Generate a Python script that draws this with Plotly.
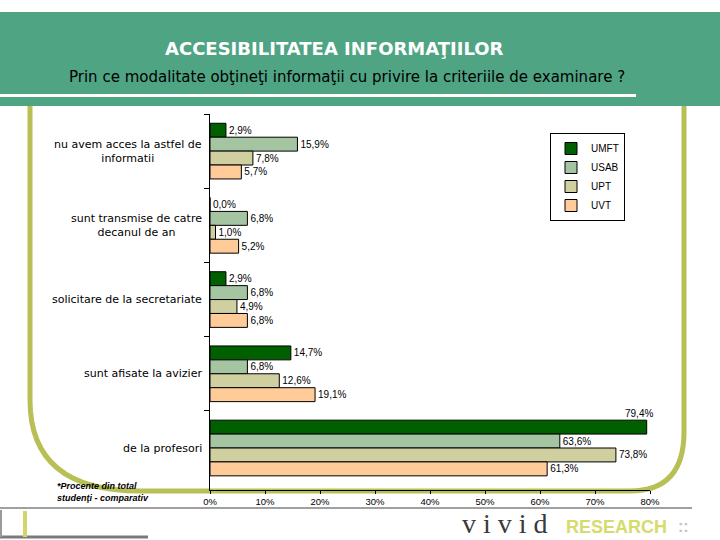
import plotly.graph_objects as go

W, H = 720, 540

categories = [
    "nu avem acces la astfel de<br>informatii",
    "sunt transmise de catre<br>decanul de an",
    "solicitare de la secretariate",
    "sunt afisate la avizier",
    "de la profesori",
]
series_names = ["UMFT", "USAB", "UPT", "UVT"]
umft = [2.9, 0.0, 2.9, 14.7, 79.4]
usab = [15.9, 6.8, 6.8, 6.8, 63.6]
upt = [7.8, 1.0, 4.9, 12.6, 73.8]
uvt = [5.7, 5.2, 6.8, 19.1, 61.3]
series_values = [umft, usab, upt, uvt]
colors = ["#006000", "#a4c4a2", "#cfcf9f", "#ffcb98"]
x_ticks = [0, 10, 20, 30, 40, 50, 60, 70, 80]

FONT = "Arial, Liberation Sans, sans-serif"
WIDE = "DejaVu Sans, sans-serif"


def fx(x):
    return x / W


def fy(y):
    return 1 - y / H


fig = go.Figure()
for name, vals, col in zip(series_names, series_values, colors):
    tp = ["outside"] * len(vals)
    if name == "UMFT":
        tp[-1] = "none"
    fig.add_trace(go.Bar(
        name=name, y=categories, x=vals, orientation="h",
        marker=dict(color=col, line=dict(color="black", width=1)),
        texttemplate="%{x:.1f}%", textposition=tp,
        textfont=dict(family=FONT, size=10, color="black"),
        cliponaxis=False,
    ))

annotations = []
for c in categories:
    annotations.append(dict(
        x=fx(204), xref="paper", y=c, yref="y", xanchor="right", yanchor="middle",
        text=c, showarrow=False, align="center",
        font=dict(family=WIDE, size=11, color="black"),
    ))
annotations.append(dict(
    x=umft[-1], xref="x", y=categories[-1], yref="y", xanchor="right", yanchor="bottom",
    yshift=27, xshift=8, text="79,4%", showarrow=False,
    font=dict(family=FONT, size=10, color="black"),
))
annotations.append(dict(
    x=fx(334), y=fy(48), xref="paper", yref="paper", text="<b>ACCESIBILITATEA INFORMAŢIILOR</b>",
    showarrow=False, font=dict(family=WIDE, size=18, color="white"), xanchor="center", yanchor="middle",
))
annotations.append(dict(
    x=fx(347), y=fy(77), xref="paper", yref="paper",
    text="Prin ce modalitate obţineţi informaţii cu privire la criteriile de examinare ?",
    showarrow=False, font=dict(family=WIDE, size=15, color="black"), xanchor="center", yanchor="middle",
))
annotations.append(dict(
    x=fx(55), y=fy(492), xref="paper", yref="paper", xanchor="left", yanchor="middle", align="left",
    text="<b><i>*Procente din total<br>studenţi - comparativ</i></b>", showarrow=False,
    font=dict(family=FONT, size=9, color="black"),
))
annotations.append(dict(
    x=fx(505), y=fy(540), xref="paper", yref="paper", xanchor="center", yanchor="bottom",
    text="v i v i d", showarrow=False, borderpad=0,
    font=dict(family="Liberation Serif, DejaVu Serif, serif", size=28, color="#3a3a3a"),
))
annotations.append(dict(
    x=fx(616), y=fy(527), xref="paper", yref="paper", xanchor="center", yanchor="middle",
    text="<b>RESEARCH</b>", showarrow=False, borderpad=0,
    font=dict(family=FONT, size=18, color="#d5dc6c"),
))
annotations.append(dict(
    x=fx(683), y=fy(526), xref="paper", yref="paper", xanchor="center", yanchor="middle",
    text="<b>::</b>", showarrow=False, borderpad=0,
    font=dict(family=FONT, size=16, color="#c4c4c4"),
))

frame_path = (
    f"M {fx(30)},{fy(104)} L {fx(30)},{fy(400)} "
    f"Q {fx(30)},{fy(491)} {fx(140)},{fy(491)} "
    f"L {fx(630)},{fy(491)} Q {fx(684)},{fy(491)} {fx(684)},{fy(432)} "
    f"L {fx(684)},{fy(104)}"
)

shapes = [
    dict(type="path", path=frame_path, xref="paper", yref="paper",
         line=dict(color="#b7bf55", width=5), layer="below"),
    dict(type="rect", x0=0, x1=1, y0=fy(106), y1=fy(12), xref="paper", yref="paper",
         fillcolor="#4fa484", line=dict(width=0), layer="below"),
    dict(type="rect", x0=0, x1=fx(636), y0=fy(97), y1=fy(94), xref="paper", yref="paper",
         fillcolor="white", line=dict(width=0), layer="below"),
    dict(type="line", x0=0, x1=fx(692), y0=fy(508), y1=fy(508), xref="paper", yref="paper",
         line=dict(color="#a0a0a0", width=2)),
    dict(type="line", x0=0, x1=fx(148), y0=fy(537), y1=fy(537), xref="paper", yref="paper",
         line=dict(color="#7a7a7a", width=3)),
    dict(type="line", x0=fx(1), x1=fx(1), y0=fy(510), y1=fy(537), xref="paper", yref="paper",
         line=dict(color="#9a9a9a", width=2)),
    dict(type="rect", x0=fx(23), x1=fx(27), y0=fy(537), y1=fy(511), xref="paper", yref="paper",
         fillcolor="#d2d66a", line=dict(width=0)),
]

fig.update_layout(
    width=W, height=H,
    margin=dict(l=0, r=0, t=0, b=0),
    paper_bgcolor="white", plot_bgcolor="rgba(0,0,0,0)",
    barmode="group", bargap=0.25, bargroupgap=0,
    separators=", ",
    showlegend=True,
    legend=dict(x=fx(550), y=fy(133), xanchor="left", yanchor="top",
                bordercolor="black", borderwidth=1, bgcolor="white",
                font=dict(family=FONT, size=10, color="black"),
                tracegroupgap=0, itemwidth=30),
    xaxis=dict(domain=[fx(210), fx(650)], range=[0, 80], tickvals=x_ticks,
               ticktext=[f"{v}%" for v in x_ticks], showgrid=False, zeroline=False,
               showline=True, linecolor="black", linewidth=1,
               ticks="outside", ticklen=3, tickcolor="black",
               tickfont=dict(family=FONT, size=9.5, color="black"), automargin=False),
    yaxis=dict(domain=[fy(490), fy(114)], autorange="reversed", showgrid=False,
               showline=True, linecolor="black", linewidth=1,
               ticks="outside", ticklen=5, tickcolor="black", tickson="boundaries",
               showticklabels=False, automargin=False),
    annotations=annotations,
    shapes=shapes,
)

fig.write_html("out.html", config={"displayModeBar": False},
               post_script="document.body.style.margin='0px';document.body.style.overflow='hidden';")
